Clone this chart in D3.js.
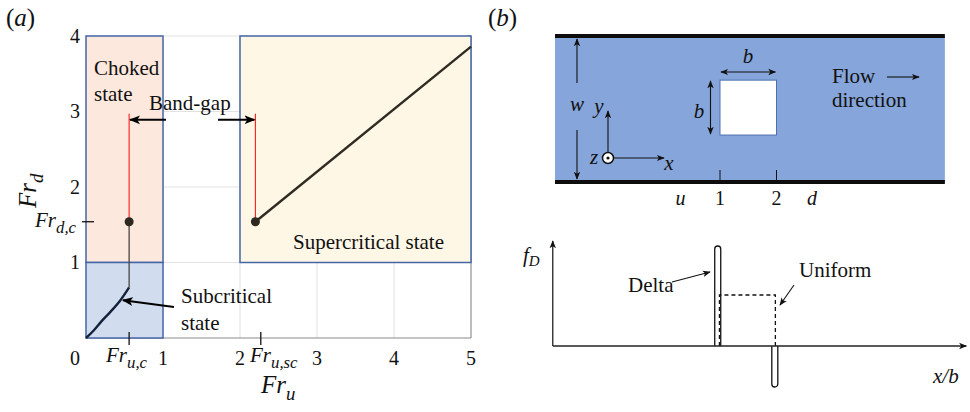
<!DOCTYPE html>
<html lang="en">
<head>
<meta charset="UTF-8">
<title>Froude regimes</title>
<script src="https://d3js.org/d3.v7.min.js"></script>
<style>
    body { margin: 0; background: #fff; }
    svg text { font-family: "Liberation Serif", "Times New Roman", serif; fill: #111; }
    .it { font-style: italic; }
</style>
</head>
<body>
<svg width="970" height="412"></svg>
<script>
    // ---- data, panel (a) ----
    const xTicks = [1, 2, 3, 4, 5];
    const yTicks = [1, 2, 3, 4];
    const regions = [
        { name: "choked",        x0: 0, x1: 1, y0: 1, y1: 4, fill: "#fde8dd" },
        { name: "subcritical",   x0: 0, x1: 1, y0: 0, y1: 1, fill: "#d1ddef" },
        { name: "supercritical", x0: 2, x1: 5, y0: 1, y1: 4, fill: "#fef7e6" }
    ];
    const subCurve = [[0, 0], [0.1, 0.1], [0.2, 0.22], [0.32, 0.35], [0.44, 0.49], [0.56, 0.67]];
    const superLine = [[2.2, 1.54], [5, 3.86]];
    const frUc = 0.56, frUsc = 2.27, frDc = 1.54, frJump = 2.2, redTop = 2.97;

    // ---- data, panel (b) (units of x/b) ----
    const channelX = [-1.92, 4.98];
    const channelW = 2.58;
    const block = { x0: 1, x1: 2, y0: 0.83, y1: 1.8 };
    const stations = [{ t: "u", x: 0.3, it: true }, { t: "1", x: 1 }, { t: "2", x: 2 }, { t: "d", x: 2.63, it: true }];
    const fAxisX = [-1.96, 5.36];
    const deltaPos = { x: 0.96, h: 1.0 };
    const deltaNeg = { x: 1.97, h: -0.41 };
    const uniform = { x0: 0.99, x1: 1.98, h: 0.51 };

    const svg = d3.select("svg");
    const defs = svg.append("defs");
    function marker(id, size, color) {
        defs.append("marker").attr("id", id)
            .attr("viewBox", "0 0 10 10").attr("refX", 9).attr("refY", 5)
            .attr("markerWidth", size).attr("markerHeight", size)
            .attr("markerUnits", "userSpaceOnUse").attr("orient", "auto-start-reverse")
            .append("path").attr("d", "M0,1 L10,5 L0,9 L2.5,5 Z").attr("fill", color);
    }
    marker("bigArrow", 11, "#000");
    marker("smallArrow", 8, "#111");

    // ================= panel (a) =================
    const x = d3.scaleLinear().domain([0, 5]).range([86, 471]);
    const y = d3.scaleLinear().domain([0, 4]).range([338, 36]);
    const ga = svg.append("g");

    // grid
    ga.selectAll(".gx").data(xTicks).join("line")
        .attr("x1", d => x(d)).attr("x2", d => x(d)).attr("y1", y(0)).attr("y2", y(4))
        .attr("stroke", "#e2e2e2").attr("stroke-width", 1);
    ga.selectAll(".gy").data(yTicks).join("line")
        .attr("x1", x(0)).attr("x2", x(5)).attr("y1", d => y(d)).attr("y2", d => y(d))
        .attr("stroke", "#e2e2e2").attr("stroke-width", 1);

    // axes lines (bottom, right)
    ga.append("line").attr("x1", x(0)).attr("x2", x(5)).attr("y1", y(0)).attr("y2", y(0))
        .attr("stroke", "#8a8a8a").attr("stroke-width", 1);
    ga.append("line").attr("x1", x(5)).attr("x2", x(5)).attr("y1", y(0)).attr("y2", y(4))
        .attr("stroke", "#8a8a8a").attr("stroke-width", 1);
    ga.selectAll(".rt").data(yTicks).join("line")
        .attr("x1", x(5) - 4).attr("x2", x(5)).attr("y1", d => y(d)).attr("y2", d => y(d))
        .attr("stroke", "#8a8a8a");

    // regions
    ga.selectAll(".reg").data(regions).join("rect")
        .attr("x", d => x(d.x0)).attr("y", d => y(d.y1))
        .attr("width", d => x(d.x1) - x(d.x0)).attr("height", d => y(d.y0) - y(d.y1))
        .attr("fill", d => d.fill).attr("stroke", "#4466a6").attr("stroke-width", 1.5);

    // tick labels
    ga.selectAll(".xl").data(xTicks).join("text")
        .attr("x", d => x(d)).attr("y", 365).attr("text-anchor", "middle")
        .attr("font-size", 20).text(d => d);
    ga.append("text").attr("x", 80).attr("y", 365).attr("text-anchor", "end")
        .attr("font-size", 20).text("0");
    ga.selectAll(".yl").data(yTicks).join("text")
        .attr("x", 80).attr("y", d => y(d) + 6.5).attr("text-anchor", "end")
        .attr("font-size", 20).text(d => d);

    // special ticks
    [frUc, frUsc].forEach(v => {
        ga.append("line").attr("x1", x(v)).attr("x2", x(v)).attr("y1", y(0) - 6).attr("y2", y(0) + 7)
            .attr("stroke", "#111").attr("stroke-width", 1.3);
    });
    ga.append("line").attr("x1", x(0) - 4).attr("x2", x(0) + 8).attr("y1", y(frDc)).attr("y2", y(frDc))
        .attr("stroke", "#111").attr("stroke-width", 1.3);

    function frLabel(g, px, py, sub, size, anchor, subScale) {
        const t = g.append("text").attr("x", px).attr("y", py).attr("class", "it")
            .attr("font-size", size).attr("text-anchor", anchor || "start");
        t.append("tspan").text("Fr");
        t.append("tspan").attr("font-size", size * (subScale || 0.8)).attr("dy", size * 0.28).text(sub);
        return t;
    }
    frLabel(ga, 106, 362, "u,c", 21);
    frLabel(ga, 250, 362, "u,sc", 21);
    frLabel(ga, 35, 227, "d,c", 21);
    frLabel(ga, 261, 393, "u", 25, null, 0.75);
    frLabel(ga, 0, 0, "d", 25, null, 0.75).attr("transform", "translate(36,208) rotate(-90)");

    // curves
    const line = d3.line().x(d => x(d[0])).y(d => y(d[1]));
    ga.append("path").datum(subCurve).attr("d", line.curve(d3.curveMonotoneX))
        .attr("fill", "none").attr("stroke", "#15223c").attr("stroke-width", 2.4);
    ga.append("line").attr("x1", x(frUc)).attr("x2", x(frUc))
        .attr("y1", y(subCurve[subCurve.length - 1][1])).attr("y2", y(frDc))
        .attr("stroke", "#4a4540").attr("stroke-width", 1.3);
    ga.append("path").datum(superLine).attr("d", d3.line().x(d => x(d[0])).y(d => y(d[1])))
        .attr("fill", "none").attr("stroke", "#2e2c22").attr("stroke-width", 2.4);

    // red jump lines
    [frUc, frJump].forEach(v => {
        ga.append("line").attr("x1", x(v)).attr("x2", x(v)).attr("y1", y(frDc)).attr("y2", y(redTop))
            .attr("stroke", "#ff1a1a").attr("stroke-width", 1.1);
    });
    ga.selectAll(".dot").data([frUc, frJump]).join("circle")
        .attr("cx", d => x(d)).attr("cy", y(frDc)).attr("r", 4.5).attr("fill", "#2d2820");

    // region labels
    const lab = (px, py, s) => ga.append("text").attr("x", px).attr("y", py).attr("font-size", 21).text(s);
    lab(94, 75, "Choked");
    lab(94, 101, "state");
    lab(149, 110, "Band-gap");
    lab(293, 249, "Supercritical state");
    lab(181, 303, "Subcritical");
    lab(181, 330, "state");

    // arrows
    ga.append("line").attr("x1", 166).attr("y1", y(2.89)).attr("x2", x(frUc) + 1).attr("y2", y(2.89))
        .attr("stroke", "#000").attr("stroke-width", 2).attr("marker-end", "url(#bigArrow)");
    ga.append("line").attr("x1", 218).attr("y1", y(2.89)).attr("x2", x(frJump) - 1).attr("y2", y(2.89))
        .attr("stroke", "#000").attr("stroke-width", 2).attr("marker-end", "url(#bigArrow)");
    ga.append("line").attr("x1", 174).attr("y1", 307).attr("x2", x(0.48)).attr("y2", y(0.5))
        .attr("stroke", "#000").attr("stroke-width", 2).attr("marker-end", "url(#bigArrow)");

    ga.append("text").attr("x", 6).attr("y", 26).attr("font-size", 25).html("(<tspan class='it'>a</tspan>)");

    // ================= panel (b) =================
    const sx = d3.scaleLinear().domain([1, 2]).range([720, 776.5]);
    const cy = d3.scaleLinear().domain([0, channelW]).range([182, 36]);
    const gb = svg.append("g");

    gb.append("rect").attr("x", sx(channelX[0])).attr("y", cy(channelW))
        .attr("width", sx(channelX[1]) - sx(channelX[0])).attr("height", cy(0) - cy(channelW))
        .attr("fill", "#86a5da");
    [0, channelW].forEach(v => {
        gb.append("line").attr("x1", sx(channelX[0])).attr("x2", sx(channelX[1]))
            .attr("y1", cy(v)).attr("y2", cy(v)).attr("stroke", "#0d0d0d").attr("stroke-width", 4);
    });
    gb.append("rect").attr("x", sx(block.x0)).attr("y", cy(block.y1))
        .attr("width", sx(block.x1) - sx(block.x0)).attr("height", cy(block.y0) - cy(block.y1))
        .attr("fill", "#fff").attr("stroke", "#4f70b0").attr("stroke-width", 1);

    const arr = (x1, y1, x2, y2, both) => {
        const l = gb.append("line").attr("x1", x1).attr("y1", y1).attr("x2", x2).attr("y2", y2)
            .attr("stroke", "#111").attr("stroke-width", 1.1).attr("marker-end", "url(#smallArrow)");
        if (both) l.attr("marker-start", "url(#smallArrow)");
        return l;
    };
    // b dimensions
    arr(sx(block.x0) + 1, 72, sx(block.x1) - 1, 72, true);
    arr(710.5, cy(block.y1) + 1, 710.5, cy(block.y0) - 1, true);
    // w arrows
    arr(577, 83, 577, cy(channelW) + 3);
    arr(577, 130, 577, cy(0) - 3);
    // coordinate frame
    arr(608, 152, 608, 111);
    arr(614, 158, 664, 158);
    gb.append("circle").attr("cx", 608).attr("cy", 158).attr("r", 5.5)
        .attr("fill", "#fff").attr("stroke", "#111").attr("stroke-width", 1.5);
    gb.append("circle").attr("cx", 608).attr("cy", 158).attr("r", 1.6).attr("fill", "#111");
    // flow arrow
    arr(887, 77, 919, 77);

    const tb = (px, py, s, it, anchor, size) => gb.append("text").attr("x", px).attr("y", py)
        .attr("font-size", size || 21).attr("class", it ? "it" : null)
        .attr("text-anchor", anchor || "start").text(s);
    tb(748, 63, "b", true, "middle");
    tb(699, 118, "b", true, "middle");
    tb(577, 111, "w", true, "middle");
    tb(599, 113, "y", true, "middle");
    tb(594, 164, "z", true, "middle");
    tb(669, 170, "x", true, "middle");
    tb(832, 83, "Flow");
    tb(832, 107, "direction");

    // station ticks
    gb.selectAll(".st").data(stations.filter(d => !d.it)).join("line")
        .attr("x1", d => sx(d.x)).attr("x2", d => sx(d.x)).attr("y1", 170).attr("y2", cy(0) - 2)
        .attr("stroke", "#111").attr("stroke-width", 1);
    gb.selectAll(".stl").data(stations).join("text")
        .attr("x", d => sx(d.x)).attr("y", 205).attr("text-anchor", "middle")
        .attr("font-size", 20).attr("class", d => d.it ? "it" : null).text(d => d.t);

    gb.append("text").attr("x", 488).attr("y", 26).attr("font-size", 25).html("(<tspan class='it'>b</tspan>)");

    // ---- f_D sketch ----
    const fy = d3.scaleLinear().domain([0, 1]).range([346, 246]);
    gb.append("line").attr("x1", sx(fAxisX[0])).attr("x2", sx(fAxisX[0])).attr("y1", fy(0)).attr("y2", fy(1.05))
        .attr("stroke", "#222").attr("stroke-width", 1.3).attr("marker-end", "url(#smallArrow)");

    function spike(s) {
        const half = 3, r = 3;
        const xl = sx(s.x) - half, xr = sx(s.x) + half;
        const yt = fy(s.h), sgn = s.h > 0 ? 1 : -1;
        const yb = fy(0);
        return `M${xl},${yb} L${xl},${yt + sgn * r} A${half},${r} 0 0 ${sgn > 0 ? 1 : 0} ${xr},${yt + sgn * r} L${xr},${yb}`;
    }
    [deltaPos, deltaNeg].forEach(s => {
        gb.append("path").attr("d", spike(s)).attr("fill", "#fff")
            .attr("stroke", "#111").attr("stroke-width", 1.3);
    });
    gb.append("path")
        .attr("d", `M${sx(uniform.x0)},${fy(0)} L${sx(uniform.x0)},${fy(uniform.h)} L${sx(uniform.x1)},${fy(uniform.h)} L${sx(uniform.x1)},${fy(0)}`)
        .attr("fill", "none").attr("stroke", "#111").attr("stroke-width", 1.3).attr("stroke-dasharray", "4,3");
    gb.append("line").attr("x1", sx(fAxisX[0])).attr("x2", sx(fAxisX[1])).attr("y1", fy(0)).attr("y2", fy(0))
        .attr("stroke", "#222").attr("stroke-width", 1.6).attr("marker-end", "url(#smallArrow)");

    const fd = gb.append("text").attr("x", 523).attr("y", 262).attr("class", "it").attr("font-size", 21);
    fd.append("tspan").text("f");
    fd.append("tspan").attr("font-size", 15).attr("dy", 4).text("D");
    tb(628, 292, "Delta");
    arr(672, 282, 710, 272);
    tb(799, 277, "Uniform");
    arr(794, 285, 780, 305);
    tb(933, 383, "x/b", true);
</script>
</body>
</html>
